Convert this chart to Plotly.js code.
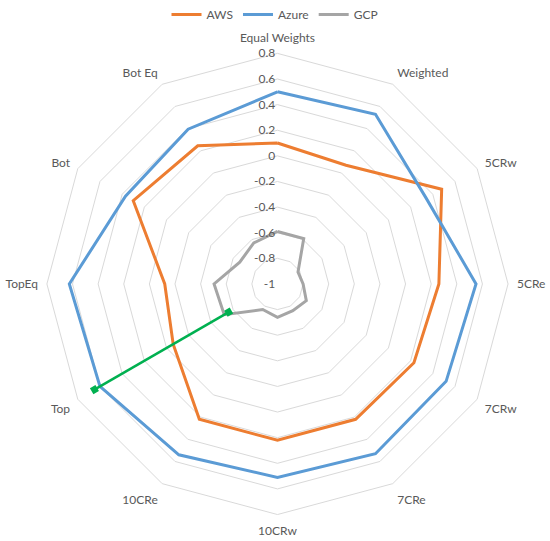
<!DOCTYPE html>
<html>
<head>
<meta charset="utf-8">
<script src="https://cdn.plot.ly/plotly-3.0.1.min.js"></script>
<style>
  html, body { margin: 0; padding: 0; background: #fff; }
  #radar { width: 550px; height: 541px; }
</style>
</head>
<body>
<div id="radar"></div>
<script>
// Categories, clockwise from the top
const categories = ["Equal Weights", "Weighted", "5CRw", "5CRe", "7CRw", "7CRe",
                    "10CRw", "10CRe", "Top", "TopEq", "Bot", "Bot Eq"];

const awsValues   = [0.10, 0.07, 0.48, 0.26, 0.23, 0.22, 0.22, 0.22, -0.06, -0.12, 0.30, 0.245];
const azureValues = [0.50, 0.53, 0.34, 0.55, 0.52, 0.53, 0.51, 0.54, 0.60, 0.625, 0.37, 0.395];
const gcpValues   = [-0.59, -0.59, -0.815, -0.80, -0.74, -0.76, -0.74, -0.77, -0.52, -0.505, -0.66, -0.63];

// green gap arrow along "Top", with small square end caps
const arrowTheta = ["Top", "Top"];
const arrowR = [-0.56, 0.65];
const capTheta = ["Top", "Top", null, "Top", "Top"];
const capR = [-0.585, -0.535, null, 0.625, 0.675];

const radialTicks = [-1, -0.8, -0.6, -0.4, -0.2, 0, 0.2, 0.4, 0.6, 0.8];
const radialText  = ["-1", "-0.8", "-0.6", "-0.4", "-0.2", "0", "0.2", "0.4", "0.6", "0.8"];

// close the loops
const closed = arr => arr.concat([arr[0]]);
const thetaClosed = closed(categories);

const textColor = "#595959";
const gridColor = "#d9d9d9";

const data = [
    {
        type: "scatterpolar", mode: "lines", name: "AWS",
        r: closed(awsValues), theta: thetaClosed,
        line: { color: "#ed7d31", width: 3 }
    },
    {
        type: "scatterpolar", mode: "lines", name: "Azure",
        r: closed(azureValues), theta: thetaClosed,
        line: { color: "#5b9bd5", width: 3 }
    },
    {
        type: "scatterpolar", mode: "lines", name: "GCP",
        r: closed(gcpValues), theta: thetaClosed,
        line: { color: "#a5a5a5", width: 3 }
    },
    {
        type: "scatterpolar", mode: "lines", showlegend: false,
        r: arrowR, theta: arrowTheta,
        line: { color: "#00b050", width: 2.5 }
    },
    {
        type: "scatterpolar", mode: "lines", showlegend: false,
        r: capR, theta: capTheta, connectgaps: false,
        line: { color: "#00b050", width: 7 }
    }
];

const layout = {
    width: 550,
    height: 541,
    margin: { l: 0, r: 0, t: 0, b: 0 },
    paper_bgcolor: "#ffffff",
    font: { family: "Lato, 'Open Sans', sans-serif", size: 12, color: textColor },
    showlegend: true,
    legend: {
        orientation: "h",
        x: 0.5, xanchor: "center",
        y: 1.002, yanchor: "top",
        font: { size: 12, color: textColor },
        itemwidth: 30
    },
    polar: {
        domain: { x: [0.0845, 0.9245], y: [0.049, 0.903] },
        gridshape: "linear",
        bgcolor: "#ffffff",
        angularaxis: {
            direction: "clockwise",
            rotation: 90,
            showgrid: false,
            showline: true,
            linecolor: gridColor,
            linewidth: 1,
            ticks: "outside",
            ticklen: 6,
            tickcolor: "rgba(0,0,0,0)",
            tickfont: { size: 12, color: textColor }
        },
        radialaxis: {
            range: [-1, 0.8],
            angle: 90,
            side: "counterclockwise",
            tickangle: 90,
            tickvals: radialTicks,
            ticktext: radialText,
            showline: false,
            ticks: "",
            gridcolor: gridColor,
            gridwidth: 1,
            tickfont: { size: 12, color: textColor }
        }
    }
};

Plotly.newPlot("radar", data, layout, { displayModeBar: false });
</script>
</body>
</html>
